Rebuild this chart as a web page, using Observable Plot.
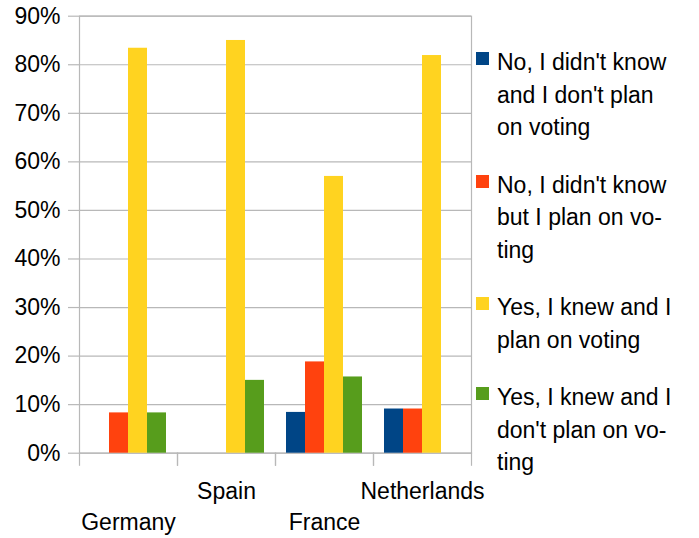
<!DOCTYPE html>
<html>
<head>
<meta charset="utf-8">
<script src="https://cdn.jsdelivr.net/npm/d3@7"></script>
<script src="https://cdn.jsdelivr.net/npm/@observablehq/plot@0.6"></script>
<style>
  html, body { margin: 0; padding: 0; background: #fff; }
  #wrap { position: relative; width: 699px; height: 538px; font-family: "Liberation Sans", Arial, sans-serif; }
  #legend { position: absolute; left: 476px; top: 46px; font-size: 23px; line-height: 32.5px; color: #000; }
  .item { position: relative; padding-left: 21px; margin-bottom: 25px; white-space: nowrap; }
  .sw { position: absolute; left: 0; top: 6px; width: 13px; height: 13px; }
</style>
</head>
<body>
<div id="wrap"><div id="legend"></div></div>
<script>
const countries = ["Germany", "Spain", "France", "Netherlands"];
const seriesNames = [
  "No, I didn't know and I don't plan on voting",
  "No, I didn't know but I plan on voting",
  "Yes, I knew and I plan on voting",
  "Yes, I knew and I don't plan on voting"
];
const legendLines = [
  ["No, I didn't know", "and I don't plan", "on voting"],
  ["No, I didn't know", "but I plan on vo-", "ting"],
  ["Yes, I knew and I", "plan on voting"],
  ["Yes, I knew and I", "don't plan on vo-", "ting"]
];
const colors = ["#004586", "#ff420e", "#ffd320", "#579d1c"];
const noKnowNoVote = [0, 0, 8.4, 9.1];
const noKnowVote = [8.3, 0, 18.8, 9.1];
const yesKnowVote = [83.4, 85.0, 57.0, 81.9];
const yesKnowNoVote = [8.3, 15.0, 15.7, 0];
const yTicks = [0, 10, 20, 30, 40, 50, 60, 70, 80, 90];
const upperLabels = ["Spain", "Netherlands"];
const lowerLabels = ["Germany", "France"];

const seriesValues = [noKnowNoVote, noKnowVote, yesKnowVote, yesKnowNoVote];
const data = [];
countries.forEach((c, i) => {
  seriesNames.forEach((s, j) => {
    data.push({country: c, series: s, value: seriesValues[j][i]});
  });
});

const W = 699, H = 538;
const mLeft = 79, mRight = 228, mTop = 15.7, mBottom = 85.3;
const plotH = H - mTop - mBottom;
const grid = "#b8b8b8";
const font = "Liberation Sans, Arial, sans-serif";

const chart = Plot.plot({
  width: W,
  height: H,
  marginLeft: mLeft,
  marginRight: mRight,
  marginTop: mTop,
  marginBottom: mBottom,
  style: {fontFamily: font, fontSize: "23px", background: "white", color: "black"},
  fx: {domain: countries, padding: 0, axis: null, label: null},
  x: {domain: seriesNames, paddingInner: 0, paddingOuter: 0.48, axis: null, label: null},
  y: {domain: [0, 90], axis: null, label: null},
  color: {domain: seriesNames, range: colors},
  marks: [
    Plot.gridY(yTicks, {stroke: grid, strokeOpacity: 1, strokeWidth: 1.2}),
    Plot.frame({anchor: "left", stroke: grid, strokeWidth: 1.2, insetTop: plotH, insetBottom: -12}),
    Plot.frame({anchor: "right", stroke: grid, strokeWidth: 1.2, insetTop: plotH, insetBottom: -12}),
    Plot.frame({facet: "super", stroke: grid, strokeWidth: 1.2}),
    Plot.barY(data, {fx: "country", x: "series", y: "value", fill: "series"}),
    Plot.axisY(yTicks, {
      tickSize: 11, tickPadding: 8, stroke: grid, strokeWidth: 1.2, fill: "black",
      fontSize: 23, tickFormat: d => d + "%", label: null
    }),
    Plot.text(upperLabels, {fx: d => d, text: d => d, frameAnchor: "bottom", lineAnchor: "top", dy: 29, fontSize: 23, fill: "black"}),
    Plot.text(lowerLabels, {fx: d => d, text: d => d, frameAnchor: "bottom", lineAnchor: "top", dy: 60, fontSize: 23, fill: "black"})
  ]
});
document.getElementById("wrap").prepend(chart);

const legend = document.getElementById("legend");
legendLines.forEach((lines, i) => {
  const item = document.createElement("div");
  item.className = "item";
  const sw = document.createElement("span");
  sw.className = "sw";
  sw.style.background = colors[i];
  item.appendChild(sw);
  lines.forEach((l, k) => {
    if (k) item.appendChild(document.createElement("br"));
    item.appendChild(document.createTextNode(l));
  });
  legend.appendChild(item);
});
</script>
</body>
</html>
